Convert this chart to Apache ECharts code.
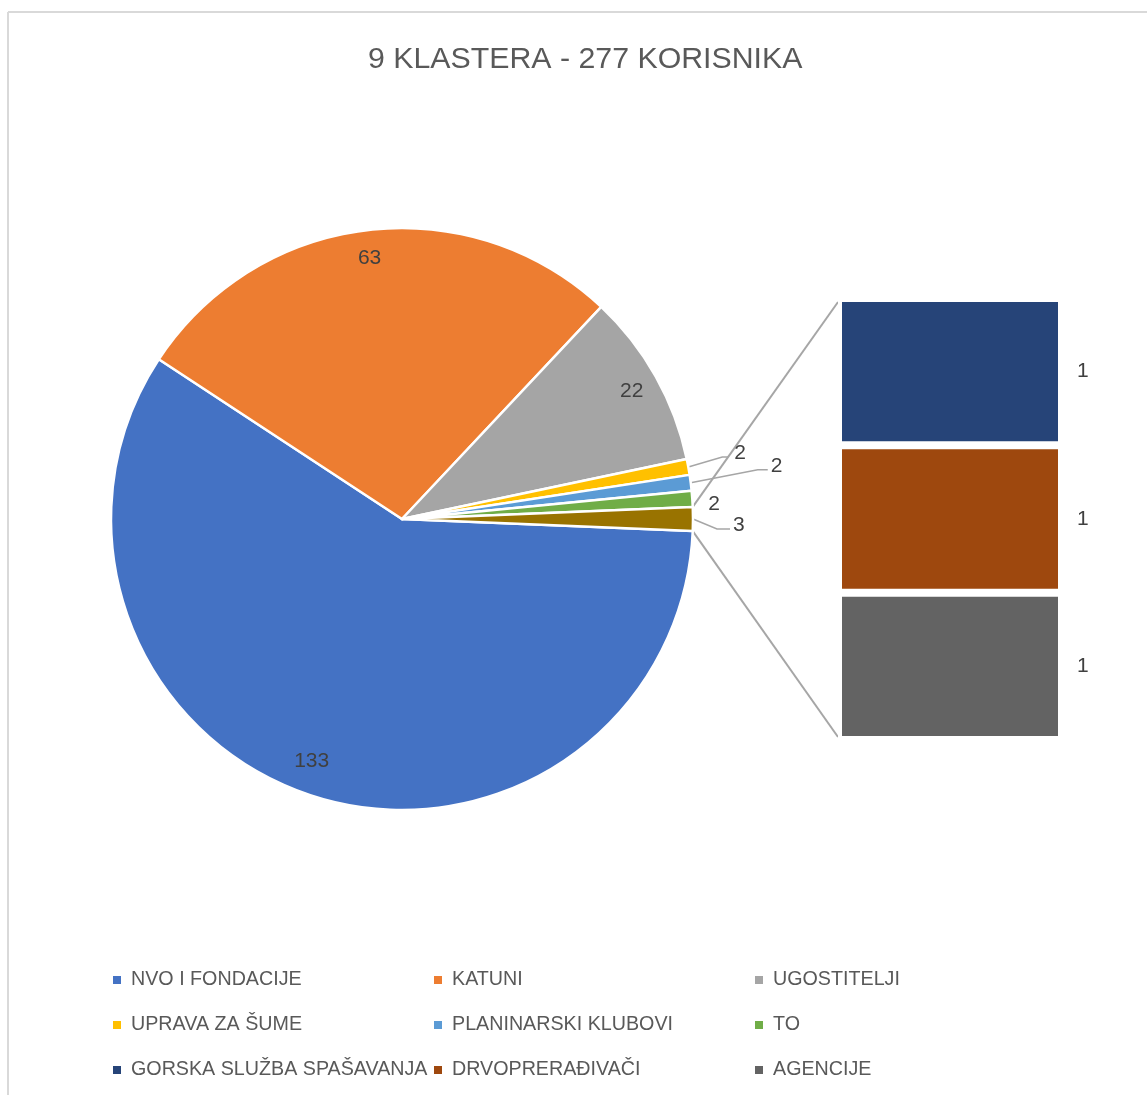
<!DOCTYPE html>
<html><head><meta charset="utf-8">
<script src="https://cdn.jsdelivr.net/npm/echarts@6/dist/echarts.min.js"></script>
<style>html,body{margin:0;padding:0;background:#fff}#c{width:1147px;height:1095px}</style>
</head><body><div id="c"></div>
<script>
// ---- data ----
const chartTitle = '9 KLASTERA - 277 KORISNIKA';
const pieNames = ['NVO I FONDACIJE', 'KATUNI', 'UGOSTITELJI', 'UPRAVA ZA ŠUME', 'PLANINARSKI KLUBOVI', 'TO', 'Ostalo'];
const pieValues = [133, 63, 22, 2, 2, 2, 3];
const barNames = ['GORSKA SLUŽBA SPAŠAVANJA', 'DRVOPRERAĐIVAČI', 'AGENCIJE'];
const barValues = [1, 1, 1];
const legendColumns = [
  ['NVO I FONDACIJE', 'UPRAVA ZA ŠUME', 'GORSKA SLUŽBA SPAŠAVANJA'],
  ['KATUNI', 'PLANINARSKI KLUBOVI', 'DRVOPRERAĐIVAČI'],
  ['UGOSTITELJI', 'TO', 'AGENCIJE']
];

// ---- styles / layout ----
const pieColors = ['#4472C4', '#ED7D31', '#A5A5A5', '#FFC000', '#5B9BD5', '#70AD47', '#997300'];
const barColors = ['#264478', '#9E480E', '#636363'];
const FONT = 'Liberation Sans';
const CX = 402, CY = 519, R = 291;
const GRID = {left: 838, top: 298, width: 224, height: 442};
const legendLefts = [113, 434, 755];
const bigNudge = [[-11, -4], [-2, -4], [4, -1]];
const smallLabelOffsets = [
  {label: [46, -14], line: [[34, -10], [40, -10]]},
  {label: [80, -17], line: [[67, -13], [77, -13]]},
  {label: [16, 5], line: null},
  {label: [40, 6], line: [[24, 10], [37, 10]]}
];

const total = pieValues.reduce((a, b) => a + b, 0);
const startAngle = -(pieValues[pieValues.length - 1] / total * 360) / 2;
function sliceAngles(i) {
  let cum = 0;
  for (let j = 0; j < i; j++) cum += pieValues[j];
  const a0 = startAngle - cum / total * 360;
  const a1 = a0 - pieValues[i] / total * 360;
  return [a0, a1];
}
function polar(deg, r) {
  const t = deg * Math.PI / 180;
  return [CX + r * Math.cos(t), CY - r * Math.sin(t)];
}

const pieData = pieValues.map((v, i) => {
  const d = {name: pieNames[i], value: v, itemStyle: {color: pieColors[i]}};
  if (i >= 3) {
    d.label = {position: 'outside'};
    d.labelLine = {show: !!smallLabelOffsets[i - 3].line};
  }
  return d;
});

const labelText = {color: '#404040', fontSize: 21, fontFamily: FONT};

const series = [{
  type: 'pie',
  center: [CX, CY],
  radius: R,
  startAngle: startAngle,
  clockwise: true,
  avoidLabelOverlap: false,
  silent: true,
  data: pieData,
  itemStyle: {borderColor: '#ffffff', borderWidth: 2.5},
  label: Object.assign({show: true, position: 'inside', formatter: '{c}'}, labelText),
  labelLine: {show: true, length: 10, length2: 10, smooth: false, lineStyle: {color: '#a6a6a6', width: 1.5}},
  labelLayout: function (p) {
    const i = p.dataIndex;
    const [a0, a1] = sliceAngles(i);
    const mid = (a0 + a1) / 2;
    if (i < 3) {
      const q = polar(mid, R * 0.89);
      return {x: q[0] + bigNudge[i][0], y: q[1] + bigNudge[i][1]};
    }
    const an = polar(mid, R);
    const o = smallLabelOffsets[i - 3];
    const res = {x: an[0] + o.label[0], y: an[1] + o.label[1]};
    if (o.line) {
      res.labelLinePoints = [an.slice(), [an[0] + o.line[0][0], an[1] + o.line[0][1]], [an[0] + o.line[1][0], an[1] + o.line[1][1]]];
    }
    return res;
  }
}];

barNames.forEach((n, i) => {
  series.push({
    type: 'bar', name: n, stack: 'other', data: [barValues[i]], barWidth: '100%',
    silent: true,
    itemStyle: {color: barColors[i], borderColor: '#ffffff', borderWidth: 4},
    label: Object.assign({show: true, position: 'right', distance: 15}, labelText)
  });
});

const legends = legendColumns.map((col, k) => ({
  orient: 'vertical', left: legendLefts[k], top: 970, itemGap: 25, padding: 0,
  itemWidth: 8, itemHeight: 8, icon: 'rect', selectedMode: false,
  itemStyle: {borderWidth: 0},
  data: col,
  textStyle: {fontSize: 19.7, lineHeight: 20, color: '#595959', fontFamily: FONT, padding: [0, 0, 0, 5]}
}));

// connector lines from the "other" slice to the bar
const [oa0, oa1] = sliceAngles(pieValues.length - 1);
const pTop = polar(oa0, R), pBot = polar(oa1, R);
const lineStyle = {stroke: '#a6a6a6', lineWidth: 2};

const option = {
  animation: false,
  backgroundColor: '#ffffff',
  title: {text: chartTitle, left: 363, top: 40, textStyle: {fontSize: 30.3, fontWeight: 'normal', color: '#595959', fontFamily: FONT}},
  legend: legends,
  grid: {left: GRID.left, top: GRID.top, width: GRID.width, height: GRID.height, containLabel: false},
  xAxis: {type: 'category', data: ['x'], show: false},
  yAxis: {type: 'value', min: 0, max: 3, show: false, inverse: true, splitLine: {show: false}},
  series: series,
  graphic: [
    {type: 'line', shape: {x1: 8, y1: 12, x2: 1200, y2: 12}, style: {stroke: '#d9d9d9', lineWidth: 2}, silent: true},
    {type: 'line', shape: {x1: 8, y1: 12, x2: 8, y2: 1200}, style: {stroke: '#d9d9d9', lineWidth: 2}, silent: true},
    {type: 'line', shape: {x1: pTop[0], y1: pTop[1], x2: GRID.left, y2: GRID.top + 4}, style: lineStyle, silent: true},
    {type: 'line', shape: {x1: pBot[0], y1: pBot[1], x2: GRID.left, y2: GRID.top + GRID.height - 3}, style: lineStyle, silent: true}
  ]
};

const chart = echarts.init(document.getElementById('c'), null, {renderer: 'canvas'});
chart.setOption(option);
</script>
</body></html>
